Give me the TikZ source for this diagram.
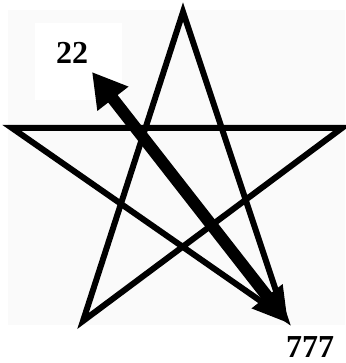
\documentclass[tikz,border=0pt]{standalone}
\usepackage{fontspec}
\setmainfont{Liberation Serif}
\usetikzlibrary{arrows.meta}

\begin{document}
\begin{tikzpicture}[x=1pt,y=-1pt,
  starline/.style={line width=6pt,line join=miter},
  bigarrow/.style={line width=12pt,{Triangle[length=34pt,width=37pt]}-{Triangle[length=34pt,width=37pt]}},
  numlabel/.style={font=\bfseries\fontsize{32}{38}\selectfont,inner sep=0pt}]
  \useasboundingbox (0,0) rectangle (345,363);
  % light page behind the star, white patch behind the label
  \fill[black!2] (8,10) rectangle (345,325);
  \fill[white] (35,23) rectangle (122,100);
  % star corners
  \coordinate (top) at (183,12);
  \coordinate (left) at (12,128);
  \coordinate (right) at (342,128);
  \coordinate (botleft) at (83,321);
  \coordinate (botright) at (285,318);
  \draw[starline] (top)--(botleft)--(right)--(left)--(botright)--cycle;
  % labels and the double arrow
  \node[numlabel] (small) at (72,53) {22};
  \node[numlabel] (large) at (310,347) {777};
  \coordinate (tipA) at (92,72);
  \coordinate (tipB) at (288,323);
  \draw[bigarrow] (tipA)--(tipB);
\end{tikzpicture}
\end{document}
